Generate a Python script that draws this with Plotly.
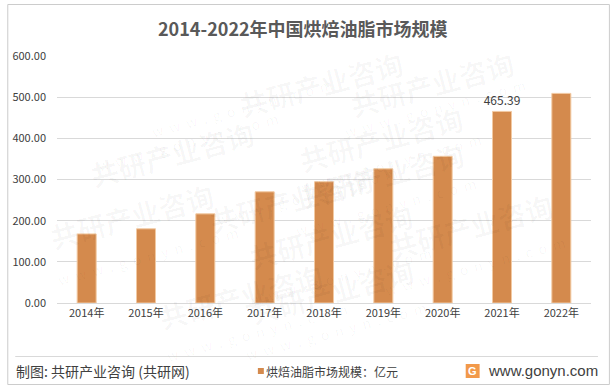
import plotly.graph_objects as go

years = ["2014年", "2015年", "2016年", "2017年", "2018年", "2019年", "2020年", "2021年", "2022年"]
market_size = [167.8, 180.2, 216.5, 270.1, 294.5, 325.9, 356.3, 465.39, 509.2]
series_name = "烘焙油脂市场规模：亿元"
labeled_year = "2021年"
y_ticks = [0, 100, 200, 300, 400, 500, 600]
y_tick_labels = ["0.00", "100.00", "200.00", "300.00", "400.00", "500.00", "600.00"]

FONT = "Noto Sans CJK SC"
BAR = "#D48A4D"
bar_text = [f"{v:.2f}" if y == labeled_year else "" for y, v in zip(years, market_size)]

# plot area in px: x 54..591, y 56..303
L, R, T, B = 54, 22, 56, 86
W, H = 613, 389
PW, PH = W - L - R, H - T - B


def px(x):
    return (x - L) / PW


def py(y):
    return (T + PH - y) / PH


fig = go.Figure()
fig.add_trace(go.Bar(
    x=years, y=market_size, name=series_name, showlegend=False,
    marker=dict(color=BAR, line=dict(color="#F2C9A2", width=1)),
    width=0.32,
    text=bar_text, textposition="outside", cliponaxis=False, constraintext="none",
    textfont=dict(family=FONT, size=12, color="#404040"),
    hoverinfo="skip",
))

shapes = [
    dict(type="rect", xref="paper", yref="paper", x0=px(4.5), x1=px(609.5), y0=py(384.5), y1=py(4.5),
         line=dict(color="#CCCCCC", width=1), fillcolor="rgba(0,0,0,0)", layer="above"),
    dict(type="line", xref="paper", yref="paper", x0=px(12), x1=px(598), y0=py(356.5), y1=py(356.5),
         line=dict(color="#D9D9D9", width=1), layer="above"),
    # legend swatch
    dict(type="rect", xref="paper", yref="paper", x0=px(256), x1=px(262), y0=py(374), y1=py(368),
         line=dict(width=0), fillcolor=BAR, layer="above"),
    # logo
    dict(type="rect", xref="paper", yref="paper", x0=px(465), x1=px(479), y0=py(378), y1=py(364),
         line=dict(width=0), fillcolor="#F2994A", layer="above"),
]

annotations = []

# faint watermarks
wm_positions = [(230, 40), (520, 40), (80, 110), (380, 95), (200, 200), (470, 175),
                (40, 260), (330, 280), (560, 270), (150, 340), (420, 335)]
for (wx, wy) in wm_positions:
    annotations.append(dict(text="<b>共研产业咨询</b>", xref="paper", yref="paper",
                            x=px(wx), y=py(wy), showarrow=False, textangle=-15,
                            font=dict(family=FONT, size=28, color="rgba(0,0,0,0.03)")))
    annotations.append(dict(text="w  w  w  .  g  o  n  y  n  .  c  o  m", xref="paper", yref="paper",
                            x=px(wx + 10), y=py(min(wy + 32, 368)), showarrow=False, textangle=-15,
                            font=dict(family=FONT, size=14, color="rgba(0,0,0,0.035)")))

annotations += [
    dict(text="<b>2014-2022年中国烘焙油脂市场规模</b>", xref="paper", yref="paper",
         x=px(301), y=py(28), xanchor="center", yanchor="middle", showarrow=False,
         font=dict(family=FONT, size=18, color="#595959")),
    dict(text="制图: 共研产业咨询 (共研网)", xref="paper", yref="paper",
         x=px(11), y=py(371), xanchor="left", yanchor="middle", showarrow=False,
         font=dict(family=FONT, size=14, color="#404040")),
    dict(text=series_name, xref="paper", yref="paper",
         x=px(262), y=py(371), xanchor="left", yanchor="middle", showarrow=False,
         font=dict(family=FONT, size=12, color="#404040")),
    dict(text="www.gonyn.com", xref="paper", yref="paper",
         x=px(600), y=py(370), xanchor="right", yanchor="middle", showarrow=False,
         font=dict(family="Liberation Sans", size=15, color="#404040")),
    dict(text="<b>G</b>", xref="paper", yref="paper",
         x=px(472), y=py(371), xanchor="center", yanchor="middle", showarrow=False,
         font=dict(family="Liberation Sans", size=11, color="white")),
]

fig.update_layout(
    width=W, height=H,
    margin=dict(l=L, r=R, t=T, b=B),
    paper_bgcolor="white", plot_bgcolor="white",
    font=dict(family=FONT, size=11, color="#404040"),
    showlegend=False,
    xaxis=dict(type="category", showgrid=False, showline=True, linecolor="#D9D9D9",
               ticks="", tickfont=dict(family=FONT, size=11, color="#404040")),
    yaxis=dict(range=[0, 600], tickvals=y_ticks, ticktext=y_tick_labels,
               showgrid=True, gridcolor="#D9D9D9", gridwidth=1, zeroline=False,
               showline=False, ticks="", ticklabelstandoff=10,
               tickfont=dict(family=FONT, size=11, color="#404040")),
    shapes=shapes, annotations=annotations,
)

fig.write_html("out.html", config={"displayModeBar": False},
               post_script="document.body.style.margin='0';document.body.style.overflow='hidden';")
